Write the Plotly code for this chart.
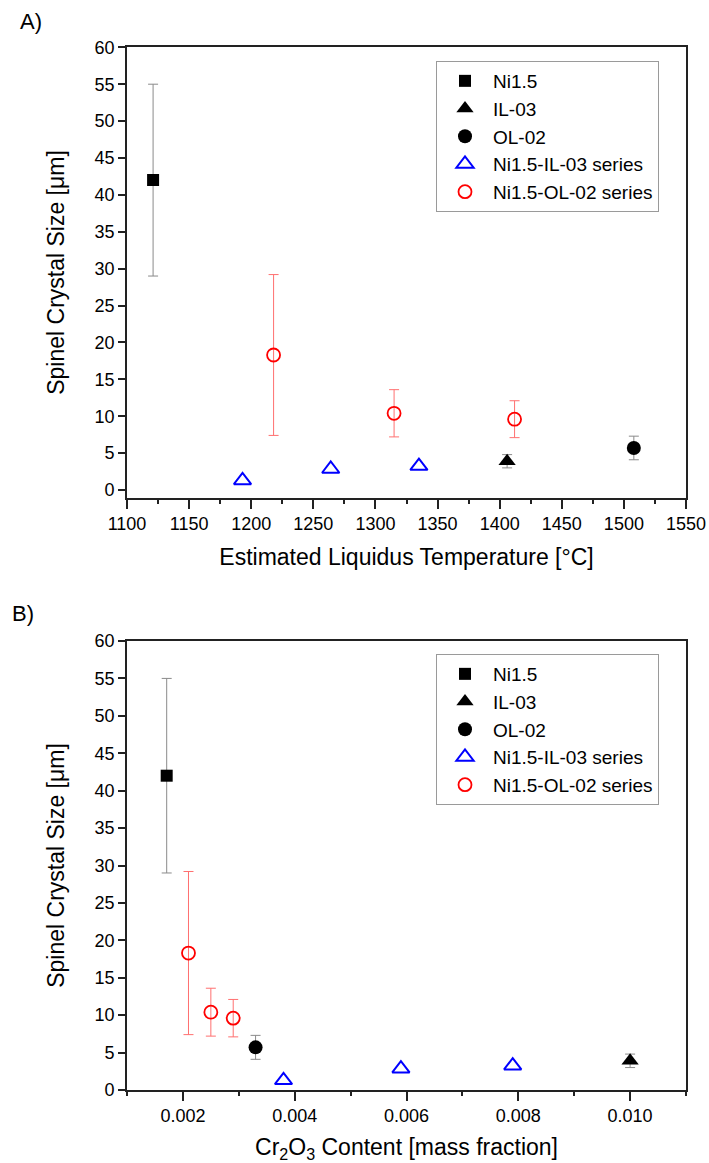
import plotly.graph_objects as go

# ---------------- data ----------------
# Panel A: estimated liquidus temperature [°C]
temp_ni15 = [1121]
temp_il03 = [1406]
temp_ol02 = [1508]
temp_ni_il = [1193, 1264, 1335]
temp_ni_ol = [1218, 1315, 1412]

# Panel B: Cr2O3 content [mass fraction]
cr_ni15 = [0.00171]
cr_il03 = [0.0100]
cr_ol02 = [0.0033]
cr_ni_il = [0.0038, 0.0059, 0.0079]
cr_ni_ol = [0.0021, 0.0025, 0.0029]

# Spinel crystal size [µm] and error
size_ni15 = [42.0]
err_ni15 = [13.0]
size_il03 = [3.9]
err_il03 = [0.9]
size_ol02 = [5.7]
err_ol02 = [1.6]
size_ni_il = [1.3, 2.85, 3.25]
size_ni_ol = [18.3, 10.4, 9.6]
err_ni_ol = [10.9, 3.2, 2.5]

names = ["Ni1.5", "IL-03", "OL-02", "Ni1.5-IL-03 series", "Ni1.5-OL-02 series"]

FONT = "Arial, Liberation Sans, Helvetica, sans-serif"
W, H = 709, 1163

fig = go.Figure()

def add_panel(xs, xa, ya, leg):
    x_ni15, x_il03, x_ol02, x_ni_il, x_ni_ol = xs
    grey_err = dict(type="data", thickness=1, width=5, color="#8a8a8a")
    fig.add_trace(go.Scatter(
        x=x_ni15, y=size_ni15, mode="markers", name=names[0], xaxis=xa, yaxis=ya, legend=leg,
        marker=dict(symbol="square", size=12, color="black"),
        error_y=dict(array=err_ni15, **grey_err)))
    fig.add_trace(go.Scatter(
        x=x_il03, y=size_il03, mode="markers", name=names[1], xaxis=xa, yaxis=ya, legend=leg,
        marker=dict(symbol="triangle-up", size=15, color="black"),
        error_y=dict(array=err_il03, **grey_err)))
    fig.add_trace(go.Scatter(
        x=x_ol02, y=size_ol02, mode="markers", name=names[2], xaxis=xa, yaxis=ya, legend=leg,
        marker=dict(symbol="circle", size=14, color="black"),
        error_y=dict(array=err_ol02, **grey_err)))
    fig.add_trace(go.Scatter(
        x=x_ni_il, y=size_ni_il, mode="markers", name=names[3], xaxis=xa, yaxis=ya, legend=leg,
        marker=dict(symbol="triangle-up-open", size=15, color="#0000ff", line=dict(width=2, color="#0000ff"))))
    fig.add_trace(go.Scatter(
        x=x_ni_ol, y=size_ni_ol, mode="markers", name=names[4], xaxis=xa, yaxis=ya, legend=leg,
        marker=dict(symbol="circle-open", size=13, color="#ff0000", line=dict(width=1.8, color="#ff0000")),
        error_y=dict(type="data", array=err_ni_ol, thickness=1, width=5, color="#ff7070")))

add_panel((temp_ni15, temp_il03, temp_ol02, temp_ni_il, temp_ni_ol), "x", "y", "legend")
add_panel((cr_ni15, cr_il03, cr_ol02, cr_ni_il, cr_ni_ol), "x2", "y2", "legend2")

x_dom = [127 / W, 686 / W]
yA = [1 - 497.7 / H, 1 - 47.3 / H]
yB = [1 - 1090 / H, 1 - 641 / H]

axis_common = dict(
    showline=True, linecolor="#222222", linewidth=1.6, mirror=True,
    ticks="outside", tickcolor="#222222", tickwidth=1.5,
    showgrid=False, zeroline=False, automargin=False,
    tickfont=dict(family=FONT, size=18, color="black"),
)

legend_common = dict(
    font=dict(family=FONT, size=19, color="black"),
    bgcolor="white", bordercolor="#9a9a9a", borderwidth=1,
    xanchor="left", yanchor="top", tracegroupgap=0, itemwidth=46,
)

title_font = dict(family=FONT, size=23, color="black")

fig.update_layout(
    width=W, height=H,
    margin=dict(l=0, r=0, t=0, b=0),
    paper_bgcolor="white", plot_bgcolor="white",
    font=dict(family=FONT, color="black"),
    xaxis=dict(domain=x_dom, anchor="y", range=[1100, 1550], tick0=1100, dtick=50, ticklen=9,
               minor=dict(dtick=25, tick0=1100, ticklen=4, ticks="outside", tickcolor="#222222", tickwidth=1.5),
               title=dict(text="Estimated Liquidus Temperature [°C]", font=title_font, standoff=16),
               **axis_common),
    yaxis=dict(domain=yA, anchor="x", range=[-1.04, 60], tick0=0, dtick=5, ticklen=7,
               title=dict(text="Spinel Crystal Size [μm]", font=title_font, standoff=24),
               **axis_common),
    xaxis2=dict(domain=x_dom, anchor="y2", range=[0.001, 0.011], tick0=0, dtick=0.002, ticklen=9,
                tickformat=".3f",
                minor=dict(dtick=0.001, tick0=0.001, ticklen=4, ticks="outside", tickcolor="#222222", tickwidth=1.5),
                title=dict(text="Cr<sub>2</sub>O<sub>3</sub> Content [mass fraction]", font=title_font, standoff=24),
                **axis_common),
    yaxis2=dict(domain=yB, anchor="x2", range=[0, 60], tick0=0, dtick=5, ticklen=7,
                title=dict(text="Spinel Crystal Size [μm]", font=title_font, standoff=24),
                **axis_common),
    legend=dict(x=436 / W, y=1 - 61 / H, **legend_common),
    legend2=dict(x=436 / W, y=1 - 654 / H, **legend_common),
    annotations=[
        dict(text="A)", x=18 / W, y=1 - 22 / H, xref="paper", yref="paper", xanchor="left", yanchor="middle",
             showarrow=False, font=dict(family=FONT, size=22, color="black")),
        dict(text="B)", x=10 / W, y=1 - 613 / H, xref="paper", yref="paper", xanchor="left", yanchor="middle",
             showarrow=False, font=dict(family=FONT, size=22, color="black")),
    ],
)

fig.write_html("out.html")
